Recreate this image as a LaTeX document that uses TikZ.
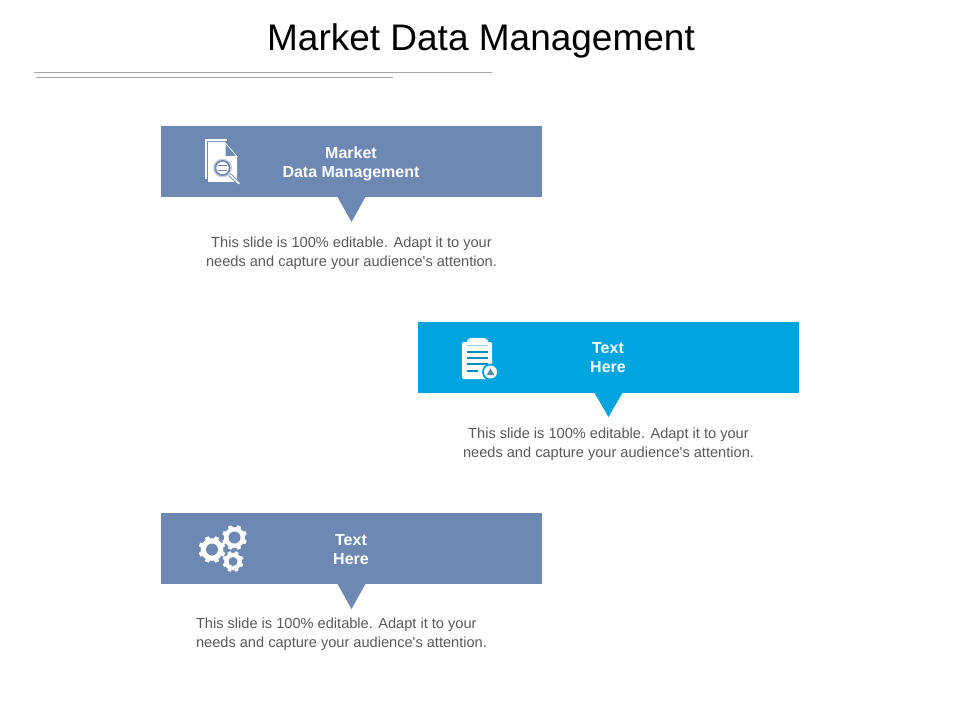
\documentclass[tikz,border=0pt]{standalone}
\usepackage{fontspec}
\setmainfont{Liberation Sans}
\newfontfamily\plainsans{Liberation Sans}
\definecolor{slateb}{HTML}{6C88B3}
\definecolor{skyb}{HTML}{00A5E0}
\definecolor{bodytxt}{HTML}{595959}
\definecolor{rulegray}{HTML}{A6A6A6}
\tikzset{
  x=0.75pt,y=-0.75pt,
  banner/.style={anchor=north west,minimum width=285.75pt,minimum height=53.25pt,inner sep=0pt,outer sep=0pt,draw=none},
  bannertext/.style={text=white,font=\fontsize{12}{14.3}\selectfont\bfseries,align=center,inner sep=0pt},
  bodytext/.style={text=bodytxt,font=\plainsans\fontsize{10.95}{14.25}\selectfont,align=center,inner sep=0pt},
  titletext/.style={text=black,font=\fontsize{27.75}{32}\selectfont,inner sep=0pt},
  rule/.style={draw=rulegray,line width=0.7pt},
}
\newcommand{\cogwheel}[5]{% x, y, outer radius, hole radius, hole colour
  \fill[white] (#1,#2) circle[radius=#3*0.84];
  \foreach \a in {0,45,...,315}{
    \fill[white,shift={(#1,#2)},rotate=\a+22.5]
      (#3*0.75,-#3*0.2) -- (#3,-#3*0.14) -- (#3,#3*0.14) -- (#3*0.75,#3*0.2) -- cycle;
  }
  \fill[#5] (#1,#2) circle[radius=#4];
}
\begin{document}
\begin{tikzpicture}
\useasboundingbox (0,0) rectangle (960,720);
\fill[white] (0,0) rectangle (960,720);

\node[titletext] (title) at (481,41) {Market Data Management};
\coordinate (r1a) at (34,72);  \coordinate (r1b) at (492,72);
\coordinate (r2a) at (36,77);  \coordinate (r2b) at (393,77);
\draw[rule] (r1a) -- (r1b);
\draw[rule] (r2a) -- (r2b);

% banners
\node[banner,fill=slateb] (b1) at (161,126) {};
\fill[slateb] (337,196) -- (366,196) -- (351.5,222) -- cycle;
\node[banner,fill=skyb] (b2) at (418,322) {};
\fill[skyb] (594,392) -- (623,392) -- (608.5,417) -- cycle;
\node[banner,fill=slateb] (b3) at (161,513) {};
\fill[slateb] (337,583) -- (366,583) -- (351.5,609) -- cycle;

\node[bannertext] (t1) at (351,163.5) {Market\\Data Management};
\node[bannertext] (t2) at (608,357.5) {Text\\Here};
\node[bannertext] (t3) at (351,549.5) {Text\\Here};

\node[bodytext] (d1) at (351.5,253) {This slide is 100\% editable. Adapt it to your\\needs and capture your audience's attention.};
\node[bodytext] (d2) at (608.5,444) {This slide is 100\% editable. Adapt it to your\\needs and capture your audience's attention.};
\node[bodytext,align=left] (d3) at (341.5,634) {This slide is 100\% editable. Adapt it to your\\needs and capture your audience's attention.};

% icon 1: document and magnifier
\draw[white,line width=1pt] (206,179) -- (206,140) -- (227,140);
\fill[white] (208,142) -- (225,142) -- (237,156) -- (237,182) -- (208,182) -- cycle;
\fill[slateb] (225.5,144) -- (225.5,156) -- (236,156) -- cycle;
\fill[slateb!35!white] (222.5,168) circle[radius=9.5];
\fill[slateb] (222.5,168) circle[radius=8];
\fill[white] (222.5,168) circle[radius=6.2];
\fill[slateb] (218,164.6) rectangle (227,166.4);
\fill[slateb] (218,169.6) rectangle (227,171.4);
\draw[slateb,line width=2.6pt] (229.5,174.5) -- (240,184.5);
\draw[white,line width=1.3pt,line cap=round] (230,175) -- (239,183.5);

% icon 2: clipboard
\fill[white,rounded corners=1pt] (462,342) rectangle (492,379);
\fill[white,rounded corners=3pt] (467,338) rectangle (488,344);
\fill[white] (472.5,339) arc[start angle=180,end angle=0,x radius=5,y radius=4] -- cycle;
\draw[skyb!45!white,line width=0.6pt] (467,345) -- (488,345);
\foreach \yy in {352,358,364}{\draw[skyb!85!black,line width=1.4pt] (467,\yy) -- (488,\yy);}
\draw[skyb!85!black,line width=1.4pt] (467,371) -- (478,371);
\fill[skyb] (490.5,372) circle[radius=8.5];
\fill[white] (490.5,372) circle[radius=6.5];
\fill[skyb!35!gray] (490.5,368.3) -- (494.2,375) -- (486.8,375) -- cycle;

% icon 3: cogs
\cogwheel{212}{549.5}{13.5}{6}{slateb}
\cogwheel{234.5}{537.5}{12.5}{6}{slateb}
\cogwheel{233}{561.5}{10.5}{4.5}{slateb}
\end{tikzpicture}
\end{document}
